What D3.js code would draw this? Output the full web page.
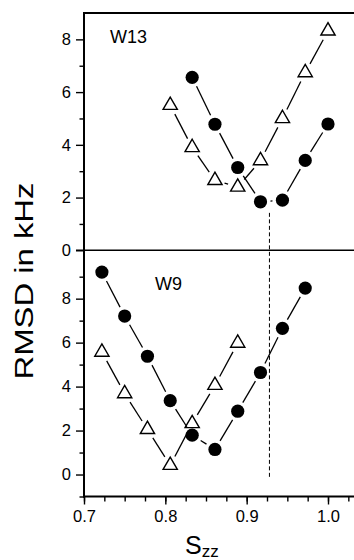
<!DOCTYPE html>
<html>
<head>
<meta charset="utf-8">
<script src="https://cdn.jsdelivr.net/npm/d3@7"></script>
<style>
  body { margin: 0; background: #fff; }
  svg { display: block; font-family: "Liberation Sans", Arial, sans-serif; }
</style>
</head>
<body>
<div id="chart"></div>
<script>
// S_zz order parameter values and RMSD (kHz)
const w13CircleX = [0.833, 0.861, 0.889, 0.917, 0.944, 0.972, 1.0];
const w13CircleY = [6.56, 4.78, 3.14, 1.84, 1.90, 3.41, 4.79];
const w13TriX = [0.806, 0.833, 0.861, 0.889, 0.917, 0.944, 0.972, 1.0];
const w13TriY = [5.50, 3.90, 2.65, 2.40, 3.40, 5.00, 6.74, 8.32];

const w9CircleX = [0.722, 0.75, 0.778, 0.806, 0.833, 0.861, 0.889, 0.917, 0.944, 0.972];
const w9CircleY = [9.21, 7.21, 5.38, 3.36, 1.79, 1.14, 2.88, 4.64, 6.65, 8.48];
const w9TriX = [0.722, 0.75, 0.778, 0.806, 0.833, 0.861, 0.889];
const w9TriY = [5.57, 3.68, 2.05, 0.42, 2.32, 4.06, 5.98];

const xMajor = [0.7, 0.8, 0.9, 1.0];
const yMajor = [0, 2, 4, 6, 8];
const refX = 0.928;

const width = 354, height = 560;
const left = 84, right = 354;

const svg = d3.select('#chart').append('svg').attr('width', width).attr('height', height);

const x = d3.scaleLinear().domain([0.7, 1.0]).range([left, left + 244]);
const yTop = d3.scaleLinear().domain([0, 9]).range([250.3, 13]);
const yBot = d3.scaleLinear().domain([-1, 10.2]).range([496.5, 250.3]);

function drawSeries(g, xs, ys, yScale, kind) {
  const pts = xs.map((v, i) => [x(v), yScale(ys[i])]);
  const gap = 10;
  for (let i = 0; i < pts.length - 1; i++) {
    const [x1, y1] = pts[i], [x2, y2] = pts[i + 1];
    const len = Math.hypot(x2 - x1, y2 - y1);
    if (len <= gap * 2) continue;
    const ux = (x2 - x1) / len, uy = (y2 - y1) / len;
    g.append('line')
      .attr('x1', x1 + ux * gap).attr('y1', y1 + uy * gap)
      .attr('x2', x2 - ux * gap).attr('y2', y2 - uy * gap)
      .style('stroke', '#000').style('stroke-width', 1.3);
  }
  if (kind === 'circle') {
    g.selectAll(null).data(pts).enter().append('circle')
      .attr('cx', d => d[0]).attr('cy', d => d[1]).attr('r', 6.6)
      .style('fill', '#000');
  } else {
    const sym = d3.symbol().type(d3.symbolTriangle).size(88);
    g.selectAll(null).data(pts).enter().append('path')
      .attr('d', sym)
      .attr('transform', d => `translate(${d[0]},${d[1]})`)
      .style('fill', '#fff').style('stroke', '#000').style('stroke-width', 1.4);
  }
}

// dashed reference line through both panels
svg.append('line')
  .attr('x1', x(refX)).attr('x2', x(refX))
  .attr('y1', yTop(1.42)).attr('y2', yBot(-0.13))
  .style('stroke', '#000').style('stroke-width', 1)
  .style('stroke-dasharray', '4,2.5');

const marks = svg.append('g');
drawSeries(marks, w13TriX, w13TriY, yTop, 'tri');
drawSeries(marks, w13CircleX, w13CircleY, yTop, 'circle');
drawSeries(marks, w9TriX, w9TriY, yBot, 'tri');
drawSeries(marks, w9CircleX, w9CircleY, yBot, 'circle');

// frame lines
svg.append('line').attr('x1', left).attr('x2', right).attr('y1', 13).attr('y2', 13)
  .style('stroke', '#000').style('stroke-width', 2);
svg.append('line').attr('x1', left - 8).attr('x2', right).attr('y1', yTop(0)).attr('y2', yTop(0))
  .style('stroke', '#000').style('stroke-width', 1.4);

// y axes
function yAxis(scale, minors) {
  const g = svg.append('g').attr('transform', `translate(${left},0)`);
  g.call(d3.axisLeft(scale).tickValues(yMajor).tickSize(8).tickFormat(d3.format('d')));
  g.select('.domain').remove();
  g.selectAll('.tick line').style('stroke-width', 1.4);
  g.selectAll('.tick text').style('font-size', '16.5px').style('fill', '#000')
    .attr('x', -13);
  const m = svg.append('g').attr('transform', `translate(${left},0)`);
  m.call(d3.axisLeft(scale).tickValues(minors).tickSize(4.5).tickFormat(''));
  m.select('.domain').remove();
  m.selectAll('.tick line').style('stroke-width', 1.4);
}
yAxis(yTop, [1, 3, 5, 7]);
yAxis(yBot, [-1, 1, 3, 5, 7, 9]);

svg.append('line').attr('x1', left).attr('x2', left).attr('y1', 12).attr('y2', 497.5)
  .style('stroke', '#000').style('stroke-width', 2);

// x axis
const xg = svg.append('g').attr('transform', 'translate(0,496.5)');
xg.call(d3.axisBottom(x).tickValues(xMajor).tickSize(8).tickFormat(d3.format('.1f')));
xg.select('.domain').remove();
xg.selectAll('.tick line').style('stroke-width', 1.4);
xg.selectAll('.tick text').style('font-size', '16.5px').style('fill', '#000').attr('y', 14);
const xm = svg.append('g').attr('transform', 'translate(0,496.5)');
xm.call(d3.axisBottom(x).tickValues(d3.range(0, 14).map(i => 0.7 + i * 0.025)).tickSize(5).tickFormat(''));
xm.select('.domain').remove();
xm.selectAll('.tick line').style('stroke-width', 1.4);
svg.append('line').attr('x1', left - 1).attr('x2', right).attr('y1', 496.5).attr('y2', 496.5)
  .style('stroke', '#000').style('stroke-width', 2);

// panel labels
svg.append('text').attr('x', 110).attr('y', 43).text('W13')
  .style('font-size', '18px');
svg.append('text').attr('x', 155).attr('y', 290).text('W9')
  .style('font-size', '18px');

// axis titles
svg.append('text')
  .attr('transform', 'translate(33,281) rotate(-90)')
  .attr('text-anchor', 'middle')
  .attr('textLength', 197).attr('lengthAdjust', 'spacingAndGlyphs')
  .style('font-size', '25px')
  .text('RMSD in kHz');

const st = svg.append('text').attr('x', 185).attr('y', 554).style('font-size', '25px');
st.append('tspan').text('S');
st.append('tspan').attr('dy', 3).style('font-size', '17px').text('zz');
</script>
</body>
</html>
